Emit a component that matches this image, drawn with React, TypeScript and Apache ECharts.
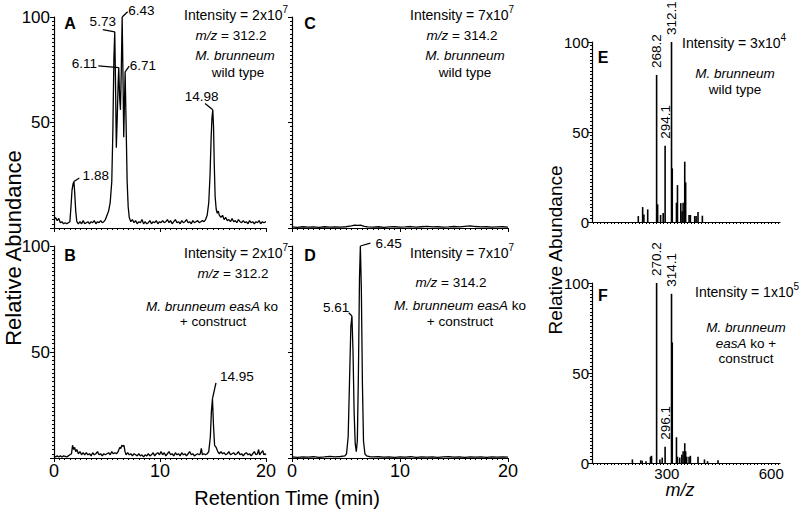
import React, { useEffect, useRef } from 'react';
import * as echarts from 'echarts';

const FF = 'Liberation Sans, Arial, Helvetica, sans-serif';

// ---- Chromatogram traces: [retention time (min), relative abundance (%)] ----
const traceA: number[][] = [
  [0,4],[0.15,5],[0.3,3.5],[0.45,4.5],[0.6,2.5],[0.75,3],[0.9,2],[1.05,2.5],[1.2,2],[1.35,2.5],[1.5,3],[1.6,10],[1.7,18],[1.8,21],[1.88,22],[1.95,17],[2.05,8],[2.15,3],[2.3,2],[2.45,3],[2.6,2],[2.75,3.5],[2.9,2],[3.05,2.5],[3.2,3],[3.35,2],[3.5,3],[3.65,2.5],[3.8,3.5],[3.95,2],[4.1,3],[4.25,2.5],[4.4,3.5],[4.55,2.5],[4.7,3],[4.85,4],[5.0,6],[5.15,8],[5.3,12],[5.45,22],[5.55,45],[5.65,80],[5.73,93],[5.8,70],[5.88,38],[5.98,55],[6.06,70],[6.11,76],[6.19,62],[6.27,56],[6.35,75],[6.43,100],[6.5,75],[6.58,43],[6.65,60],[6.71,74],[6.8,50],[6.9,22],[7.0,10],[7.1,5],[7.25,3],[7.4,4],[7.55,2.5],[7.7,3.5],[7.85,2],[8.0,3],[8.15,2.5],[8.3,4],[8.45,2],[8.6,3],[8.75,2],[8.9,2.5],[9.05,3.5],[9.2,2],[9.35,3],[9.5,2.5],[9.65,3.5],[9.8,2],[9.95,3],[10.1,2.5],[10.25,3.5],[10.4,2.5],[10.55,3],[10.7,4],[10.85,2.5],[11.0,3.5],[11.15,2],[11.3,3],[11.45,4],[11.6,2.5],[11.75,3],[11.9,2],[12.05,3.5],[12.2,2.5],[12.35,3],[12.5,4],[12.65,2.5],[12.8,3],[12.95,2],[13.1,3.5],[13.25,2.5],[13.4,3],[13.55,3.5],[13.7,2.5],[13.85,3],[14.0,3.5],[14.15,3],[14.3,4],[14.45,6],[14.6,12],[14.72,25],[14.82,42],[14.9,52],[14.98,56],[15.05,48],[15.12,30],[15.2,15],[15.3,9],[15.4,7],[15.5,8],[15.6,6],[15.75,5],[15.9,6],[16.05,4],[16.2,5],[16.35,3.5],[16.5,4],[16.65,3],[16.8,4.5],[16.95,3],[17.1,3.5],[17.25,2.5],[17.4,4],[17.55,3],[17.7,2.5],[17.85,3.5],[18.0,2.5],[18.15,3],[18.3,2],[18.45,3.5],[18.6,2.5],[18.75,3],[18.9,2],[19.05,3],[19.2,2.5],[19.35,3.5],[19.5,2],[19.65,3],[19.8,2.5],[20.0,3]
];

const traceB: number[][] = [
  [0,1],[0.15,0.5],[0.3,1],[0.45,0.5],[0.6,1],[0.75,0.5],[0.9,1],[1.05,0.8],[1.2,0.5],[1.35,1],[1.5,1.5],[1.65,2],[1.75,6],[1.85,4],[1.95,5],[2.05,3],[2.15,4],[2.3,2],[2.45,3],[2.6,1.5],[2.75,2.5],[2.9,1.5],[3.05,2.5],[3.2,1.5],[3.35,2],[3.5,1],[3.65,2.5],[3.8,1.5],[3.95,2],[4.1,3],[4.25,1.5],[4.4,2],[4.55,1],[4.7,2],[4.85,1.5],[5.0,2],[5.15,2.5],[5.3,1.5],[5.45,3],[5.6,2],[5.75,2.5],[5.9,2],[6.05,3],[6.2,5],[6.3,4.5],[6.4,6],[6.5,5.5],[6.6,6],[6.7,3],[6.8,1.5],[6.95,2.5],[7.1,1.5],[7.25,2],[7.4,1],[7.55,2],[7.7,1.5],[7.85,1],[8.0,2],[8.15,1],[8.3,1.5],[8.45,0.5],[8.6,1.5],[8.75,1],[8.9,2],[9.05,1],[9.2,1.5],[9.35,2.5],[9.5,1],[9.65,2],[9.8,2.5],[9.95,1.5],[10.1,3],[10.25,1.5],[10.4,2.5],[10.55,1],[10.7,2],[10.85,3],[11.0,1.5],[11.15,2],[11.3,1],[11.45,2.5],[11.6,1.5],[11.75,2],[11.9,1],[12.05,2.5],[12.2,1.5],[12.35,2],[12.5,1],[12.65,2],[12.8,3],[12.95,1.5],[13.1,2],[13.25,1],[13.4,1.5],[13.55,2],[13.7,1.5],[13.8,2],[13.9,4.5],[14.0,1.5],[14.15,2],[14.3,1.5],[14.45,2],[14.6,3],[14.75,10],[14.85,22],[14.95,28],[15.05,15],[15.15,6],[15.3,5],[15.45,3],[15.6,2],[15.75,3],[15.9,2],[16.05,2.5],[16.2,1.5],[16.35,2],[16.5,3],[16.65,1.5],[16.8,2],[16.95,2.5],[17.1,1.5],[17.25,2],[17.4,3],[17.55,1.5],[17.7,2],[17.85,1],[18.0,2],[18.15,2.5],[18.3,1.5],[18.45,2],[18.6,1],[18.75,2],[18.9,3],[19.05,1.5],[19.2,2],[19.3,4],[19.4,1.5],[19.55,2.5],[19.7,3.5],[19.8,1.5],[19.9,2],[20,1.5]
];

const traceC: number[][] = [
  [0,0.5],[0.5,0.3],[1,0.6],[1.5,0.4],[2,0.5],[2.5,0.3],[3,0.6],[3.5,0.4],[4,0.5],[4.5,0.4],[5,0.6],[5.5,1.0],[5.8,1.4],[6.1,1.2],[6.4,1.3],[6.7,0.8],[7,0.5],[7.5,0.4],[8,0.6],[8.5,0.3],[9,0.5],[9.5,0.6],[10,0.4],[10.5,0.5],[11,0.7],[11.5,0.4],[12,0.6],[12.5,0.8],[13,0.5],[13.5,0.6],[14,0.4],[14.5,0.5],[15,0.7],[15.5,0.5],[16,0.8],[16.5,1.0],[17,0.7],[17.5,0.5],[18,0.6],[18.5,0.4],[19,0.5],[19.5,0.6],[20,0.4]
];

const traceD: number[][] = [
  [0,0.5],[0.5,0.3],[1,0.5],[1.5,0.4],[2,0.6],[2.5,0.3],[3,0.5],[3.5,0.8],[4,0.5],[4.5,0.7],[4.9,1],[5.05,2],[5.2,10],[5.32,35],[5.45,62],[5.55,67],[5.65,50],[5.75,22],[5.85,7],[5.95,3],[6.05,8],[6.15,40],[6.25,85],[6.33,100],[6.42,80],[6.52,35],[6.62,8],[6.75,2],[6.9,1],[7.2,0.6],[7.5,0.5],[8,0.6],[8.5,0.4],[9,0.5],[9.5,0.3],[10,0.5],[10.5,0.4],[11,0.6],[11.5,0.3],[12,0.5],[12.5,0.4],[13,0.5],[13.5,0.3],[14,0.5],[14.5,0.6],[15,0.4],[15.5,0.5],[16,0.3],[16.5,0.5],[17,0.4],[17.5,0.5],[18,0.3],[18.5,0.5],[19,0.4],[19.5,0.5],[20,0.4]
];

// ---- Peak annotations: peak apex [t, %], label text ----
const peaksA: number[][] = [[1.88,22],[5.73,93],[6.11,76],[6.43,100],[6.71,74],[14.98,56]];
const peakLabelsA = ['1.88','5.73','6.11','6.43','6.71','14.98'];
const peaksB: number[][] = [[14.95,28]];
const peakLabelsB = ['14.95'];
const peaksD: number[][] = [[5.55,67],[6.33,100]];
const peakLabelsD = ['5.61','6.45'];

// leader-line end and label anchor (layout, in axis units) + alignment
const layoutA: any[] = [
  [2.39,23.7,2.7,24.8,'left'],
  [4.6,94,4.6,97.8,'center'],
  [4.18,76.8,4.06,78,'right'],
  [6.95,102.5,7.01,103,'left'],
  [7.1,76.7,7.15,77,'left'],
  [14.25,59,13.93,62.5,'center'],
];
const layoutB: any[] = [[15.28,35.4,15.66,38.6,'left']];
const layoutD: any[] = [
  [5.25,68.5,5.3,71,'right'],
  [7.26,101.4,7.72,101,'left'],
];

// ---- Mass spectra ----
const mzE = [218,230.5,234,245,270.6,273.5,282,289.5,295,313.4,315.5,327.6,330.5,340,343.7,346.7,351.4,354,363.8,367.6,380,384,389.5,402];
const intE = [3.3,8.3,4.2,7,81.7,9.8,3.9,5,42.4,100,29.8,10.7,20.5,10.5,6,10.7,33.5,22,3.9,3.9,3.3,3.3,5.5,3.5];
const labelsE: Record<number,string> = { 270.6: '268.2', 295: '294.1', 313.4: '312.1' };

const mzF = [201,225,229,240,253,256,270.6,280,286.7,295,313.4,315.5,327.6,330.5,337,343,346.7,351.4,354,357,363.8,367.6,389.5,408,417,447];
const intF = [2,1.5,1.2,1,3.5,4,100,2,3,9,94,67,14.3,3.5,3,4.6,6.5,11,6.5,3.5,3.5,4,3.5,2,1,1.5];
const labelsF: Record<number,string> = { 270.6: '270.2', 295: '296.1', 313.4: '314.1' };

const chromTicks = [0, 10, 20];
const specTicks = [300, 600];

function annotationSeries(idx: number, peaks: number[][], labels: string[], layout: any[]) {
  return {
    type: 'custom',
    coordinateSystem: 'cartesian2d',
    xAxisIndex: idx,
    yAxisIndex: idx,
    clip: false,
    silent: true,
    z: 5,
    data: peaks.map((p, k) => [p[0], p[1], layout[k][0], layout[k][1], layout[k][2], layout[k][3]]),
    encode: { x: [0, 2, 4], y: [1, 3, 5] },
    renderItem: (params: any, api: any) => {
      const k = params.dataIndex;
      const a = api.coord([api.value(0), api.value(1)]);
      const b = api.coord([api.value(2), api.value(3)]);
      const t = api.coord([api.value(4), api.value(5)]);
      return {
        type: 'group',
        children: [
          { type: 'line', shape: { x1: a[0], y1: a[1], x2: b[0], y2: b[1] }, style: { stroke: '#000', lineWidth: 1.3 } },
          { type: 'text', x: t[0], y: t[1], style: { text: labels[k], fill: '#000', fontSize: 13.5, fontFamily: FF, align: layout[k][4], verticalAlign: 'middle' } },
        ],
      };
    },
  };
}

const axisLineStyle = { color: '#000', width: 1.2 };

function chromX(i: number, showLabel: boolean) {
  return {
    type: 'value', gridIndex: i, min: 0, max: 20, interval: 10,
    axisLine: { show: true, lineStyle: axisLineStyle },
    axisTick: { show: true, length: 4, lineStyle: { color: '#000' } },
    minorTick: { show: true, splitNumber: 20, length: 2, lineStyle: { color: '#000' } },
    splitLine: { show: false },
    axisLabel: { show: showLabel, color: '#000', fontSize: 18, fontFamily: FF, margin: 4,
      formatter: (v: number) => (chromTicks.includes(v) ? String(v) : '') },
  };
}
function chromY(i: number, showLabel: boolean) {
  return {
    type: 'value', gridIndex: i, min: 0, max: 100, interval: 50,
    axisLine: { show: true, lineStyle: axisLineStyle },
    axisTick: { show: true, length: 4, lineStyle: { color: '#000' } },
    minorTick: { show: true, splitNumber: 25, length: 2, lineStyle: { color: '#000' } },
    splitLine: { show: false },
    axisLabel: { show: showLabel, color: '#000', fontSize: 17, fontFamily: FF, margin: 4,
      formatter: (v: number) => (v === 0 ? '' : String(v)) },
  };
}
const specTickValues: number[] = [];
for (let v = 90; v <= 620; v += 10) specTickValues.push(v);

function specX(i: number, showLabel: boolean) {
  return {
    type: 'value', gridIndex: i, min: 85, max: 625,
    axisLine: { show: true, lineStyle: axisLineStyle },
    axisTick: { show: true, length: 2, customValues: specTickValues, lineStyle: { color: '#000' } },
    splitLine: { show: false },
    axisLabel: { show: showLabel, customValues: specTicks, color: '#000', fontSize: 15, fontFamily: FF, margin: 3 },
  };
}
function specY(i: number) {
  return {
    type: 'value', gridIndex: i, min: 0, max: 100, interval: 50,
    axisLine: { show: true, lineStyle: axisLineStyle },
    axisTick: { show: true, length: 4, lineStyle: { color: '#000' } },
    minorTick: { show: true, splitNumber: 25, length: 2, lineStyle: { color: '#000' } },
    splitLine: { show: false },
    axisLabel: { show: true, color: '#000', fontSize: 15, fontFamily: FF, margin: 3 },
  };
}

function lineSeries(i: number, data: number[][]) {
  return {
    type: 'line', xAxisIndex: i, yAxisIndex: i, data, symbol: 'none', showSymbol: false,
    lineStyle: { color: '#000', width: 1.3 }, silent: true,
  };
}
function barSeries(i: number, mz: number[], inten: number[], labels: Record<number,string>) {
  return {
    type: 'bar', xAxisIndex: i, yAxisIndex: i, barWidth: 1.6, silent: true,
    itemStyle: { color: '#000' },
    data: mz.map((m, k) => {
      const lab = labels[m];
      return lab
        ? { value: [m, inten[k]], label: { show: true, formatter: lab, position: 'top', rotate: 90, align: 'left', verticalAlign: 'middle', distance: 7, color: '#000', fontSize: 13.5, fontFamily: FF } }
        : { value: [m, inten[k]] };
    }),
  };
}

const RICH = {
  s: { fontSize: 10, lineHeight: 10, verticalAlign: 'top', fontFamily: FF, fill: '#000' },
  i: { fontSize: 13.5, fontStyle: 'italic', fontFamily: FF, fill: '#000' },
};

function txt(x: number, y: number, text: string, o: any = {}) {
  return {
    type: 'text', x, y, silent: true, rotation: o.rot ?? 0,
    style: {
      text, fill: '#000', fontFamily: FF, fontSize: o.size ?? 13.5,
      fontStyle: o.italic ? 'italic' : 'normal', fontWeight: o.bold ? 'bold' : 'normal',
      align: o.align ?? 'center', verticalAlign: 'middle',
      lineHeight: o.lh, rich: RICH,
    },
  };
}
const intens = (x: number, y: number, text: string) => txt(x, y, text, { size: 14, lh: 22, align: 'right' });

function buildOption() {
  return {
    animation: false,
    backgroundColor: '#fff',
    grid: [
      { left: 54, top: 17, width: 212, height: 211 },
      { left: 54, top: 246, width: 212, height: 212 },
      { left: 292, top: 17, width: 216, height: 211 },
      { left: 292, top: 246, width: 216, height: 212 },
      { left: 592, top: 42, width: 188, height: 180 },
      { left: 592, top: 283, width: 188, height: 180 },
    ],
    xAxis: [chromX(0, false), chromX(1, true), chromX(2, false), chromX(3, true), specX(4, false), specX(5, true)],
    yAxis: [chromY(0, true), chromY(1, true), chromY(2, false), chromY(3, false), specY(4), specY(5)],
    series: [
      lineSeries(0, traceA), lineSeries(1, traceB), lineSeries(2, traceC), lineSeries(3, traceD),
      annotationSeries(0, peaksA, peakLabelsA, layoutA),
      annotationSeries(1, peaksB, peakLabelsB, layoutB),
      annotationSeries(3, peaksD, peakLabelsD, layoutD),
      barSeries(4, mzE, intE, labelsE),
      barSeries(5, mzF, intF, labelsF),
    ],
    graphic: [
      // Panel A
      txt(70, 23, 'A', { bold: true, size: 16 }),
      intens(288, 15, 'Intensity = 2x10{s|7}'),
      txt(231, 35, '{i|m/z} = 312.2'),
      txt(235, 55, 'M. brunneum', { italic: true }),
      txt(238, 72, 'wild type'),
      // Panel B
      txt(70, 255, 'B', { bold: true, size: 16 }),
      intens(288, 253, 'Intensity = 2x10{s|7}'),
      txt(233, 273, '{i|m/z} = 312.2'),
      txt(212, 306, '{i|M. brunneum easA} ko'),
      txt(213, 321, '+ construct'),
      // Panel C
      txt(310, 23, 'C', { bold: true, size: 16 }),
      intens(514, 15, 'Intensity = 7x10{s|7}'),
      txt(462, 35, '{i|m/z} = 314.2'),
      txt(465, 55, 'M. brunneum', { italic: true }),
      txt(465, 72, 'wild type'),
      // Panel D
      txt(310, 255, 'D', { bold: true, size: 16 }),
      intens(514, 253, 'Intensity = 7x10{s|7}'),
      txt(451, 282, '{i|m/z} = 314.2'),
      txt(460, 305, '{i|M. brunneum easA} ko'),
      txt(460, 321, '+ construct'),
      // Panel E
      txt(603, 57, 'E', { bold: true, size: 16 }),
      intens(786, 43, 'Intensity = 3x10{s|4}'),
      txt(735, 73, 'M. brunneum', { italic: true }),
      txt(735, 89, 'wild type'),
      // Panel F
      txt(603, 295, 'F', { bold: true, size: 16 }),
      intens(799, 292, 'Intensity = 1x10{s|5}'),
      txt(746, 327, 'M. brunneum', { italic: true }),
      txt(746, 343, '{i|easA} ko +'),
      txt(746, 358, 'construct'),
      // Axis titles
      txt(13, 248, 'Relative Abundance', { size: 22, rot: Math.PI / 2 }),
      txt(555, 250, 'Relative Abundance', { size: 19, rot: Math.PI / 2 }),
      txt(287, 498, 'Retention Time (min)', { size: 20 }),
      txt(680, 490, 'm/z', { size: 18, italic: true }),
    ],
  };
}

export default function App() {
  const ref = useRef<HTMLDivElement>(null);
  useEffect(() => {
    document.body.style.margin = '0';
    const chart = echarts.init(ref.current!, null, { renderer: 'svg' });
    chart.setOption(buildOption() as any);
    return () => chart.dispose();
  }, []);
  return <div ref={ref} style={{ width: 800, height: 511, background: '#fff' }} />;
}
